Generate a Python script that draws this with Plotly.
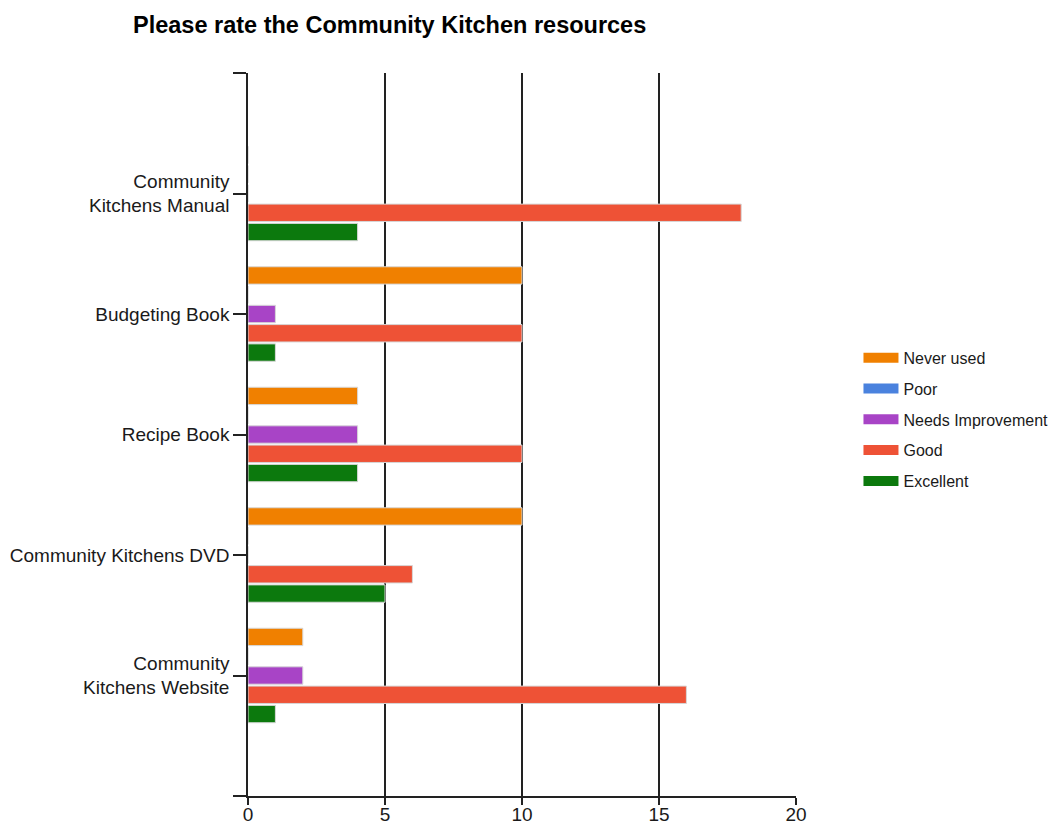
import plotly.graph_objects as go

# Resources rated in the survey (top to bottom)
resources = [
    "Community<br>Kitchens Manual",
    "Budgeting Book",
    "Recipe Book",
    "Community Kitchens DVD",
    "Community<br>Kitchens Website",
]

# Response counts per rating, in the same order as resources
never_used = [0, 10, 4, 10, 2]
poor = [0, 0, 0, 0, 0]
needs_improvement = [0, 1, 4, 0, 2]
good = [18, 10, 10, 6, 16]
excellent = [4, 1, 4, 5, 1]

series = [
    ("Never used", never_used, "#F08000"),
    ("Poor", poor, "#4A82DE"),
    ("Needs Improvement", needs_improvement, "#A844C6"),
    ("Good", good, "#EE5236"),
    ("Excellent", excellent, "#0C790D"),
]

x_ticks = [0, 5, 10, 15, 20]

positions = list(range(len(resources)))

fig = go.Figure()
for name, values, color in series:
    fig.add_trace(
        go.Bar(
            name=name,
            x=values,
            y=positions,
            orientation="h",
            marker=dict(color=color, line=dict(color="rgba(215,215,215,1)", width=1)),
            legendgroup=name,
            showlegend=False,
        )
    )

# Legend entries drawn as wide swatches
for name, _, color in series:
    fig.add_trace(
        go.Scatter(
            name=name,
            x=[None],
            y=[None],
            mode="lines",
            line=dict(color=color, width=10),
            legendgroup=name,
            showlegend=True,
            hoverinfo="skip",
        )
    )

font_family = "Liberation Sans, Arial, sans-serif"

fig.update_layout(
    width=1054,
    height=825,
    margin=dict(l=248, r=258, t=73, b=29, autoexpand=False),
    paper_bgcolor="white",
    plot_bgcolor="white",
    barmode="group",
    bargap=0.2,
    bargroupgap=0.1,
    font=dict(family=font_family, size=16, color="#1a1a1a"),
    title=dict(
        text="<b>Please rate the Community Kitchen resources</b>",
        x=133 / 1054,
        xanchor="left",
        y=1 - 25 / 825,
        yanchor="middle",
        font=dict(family=font_family, size=23.5, color="#000000"),
    ),
    legend=dict(
        x=1.114,
        xanchor="left",
        y=0.521,
        yanchor="middle",
        font=dict(family=font_family, size=16, color="#1a1a1a"),
        tracegroupgap=7,
        itemwidth=35,
        bgcolor="rgba(0,0,0,0)",
    ),
    showlegend=True,
)

fig.update_xaxes(
    range=[0, 20],
    tickvals=x_ticks,
    showgrid=True,
    gridcolor="#222222",
    gridwidth=1.5,
    zeroline=False,
    showline=True,
    linecolor="#222222",
    linewidth=1.5,
    ticks="outside",
    ticklen=7,
    tickcolor="#222222",
    tickwidth=1.5,
    tickfont=dict(size=19),
    ticklabelstandoff=-7,
    automargin=False,
    fixedrange=True,
)

fig.update_yaxes(
    range=[len(resources), -1],
    tickvals=[-1] + positions + [len(resources)],
    ticktext=[""] + resources + [""],
    showgrid=False,
    zeroline=False,
    showline=True,
    linecolor="#222222",
    linewidth=1.5,
    ticks="outside",
    ticklen=13,
    tickcolor="#222222",
    tickwidth=1.5,
    tickfont=dict(size=19),
    automargin=False,
    fixedrange=True,
)

fig.write_html("out.html")
